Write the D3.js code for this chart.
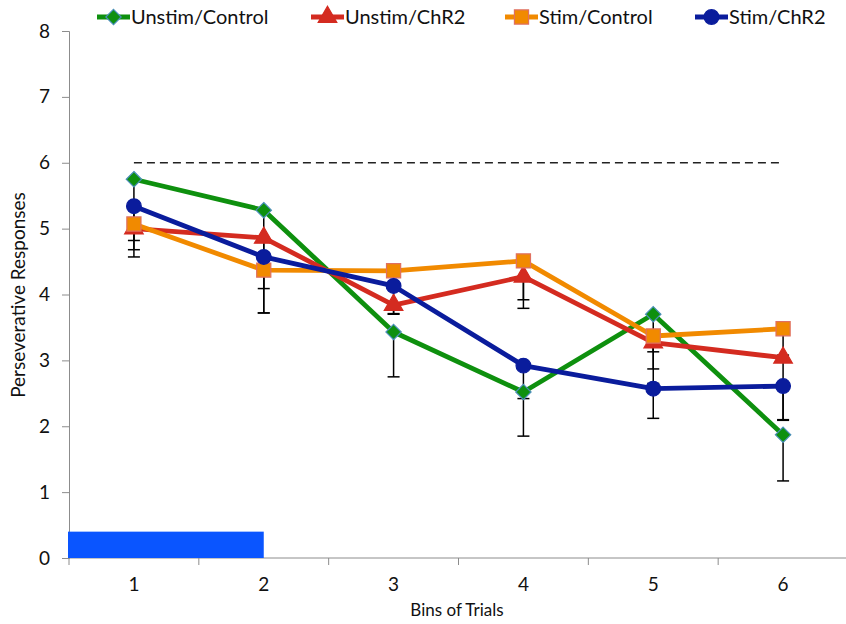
<!DOCTYPE html>
<head>
  <meta charset="utf-8">
  <script src="https://d3js.org/d3.v7.min.js"></script>
  <style>
    body { margin:0; background:#fff; }
    text { font-family: Lato, "Open Sans", sans-serif; fill:#111; }
  </style>
</head>
<body>
<svg width="846" height="624"></svg>
<script>

const bins = ["1", "2", "3", "4", "5", "6"]
const yTicks = [0, 1, 2, 3, 4, 5, 6, 7, 8]

const seriesNames = ["Unstim/Control", "Unstim/ChR2", "Stim/Control", "Stim/ChR2"]
const unstimControl = [5.75, 5.28, 3.43, 2.52, 3.70, 1.87]
const unstimChR2    = [5.00, 4.86, 3.84, 4.27, 3.27, 3.04]
const stimControl   = [5.07, 4.37, 4.36, 4.51, 3.37, 3.48]
const stimChR2      = [5.34, 4.57, 4.13, 2.92, 2.57, 2.61]

// minus-only error bars
const errUnstimControl = [1.18, 1.56, 0.68, 0.67, 1.05, 0.70]
const errUnstimChR2    = [0.32, 0.30, 0.14, 0.48, 0.14, 0.94]
const errStimControl   = [0.25, 0.65, 0.20, 0.59, 0.50, 0.40]
const errStimChR2      = [0.30, 0.48, 0.42, 0.50, 0.45, 0.52]

const criterion = 6
const stimBar = 0.4

const colors = ["#0e900e", "#d42b20", "#f18a00", "#0a1c9c"]
const shapes = ["diamond", "triangle", "square", "circle"]

const svg = d3.select("svg")

const x = d3.scaleBand().domain(bins).range([69, 848])
const y = d3.scaleLinear().domain([0, 8]).range([558, 31])
const cx = d => x(d) + x.bandwidth() / 2

const series = [
  {name: seriesNames[0], values: unstimControl, err: errUnstimControl},
  {name: seriesNames[1], values: unstimChR2, err: errUnstimChR2},
  {name: seriesNames[2], values: stimControl, err: errStimControl},
  {name: seriesNames[3], values: stimChR2, err: errStimChR2}
]

// axes
svg.append("g")
    .attr("transform", "translate(69,0)")
    .call(d3.axisLeft(y).tickValues(yTicks).tickSize(7).tickPadding(12))
    .call(g => g.selectAll("line, path").attr("stroke", "#8c8c8c"))
    .call(g => g.selectAll("text").style("font-size", "19px"))

const xg = svg.append("g").attr("transform", "translate(0,558)")
xg.append("line").attr("x1", 69).attr("x2", 846).attr("stroke", "#8c8c8c")
xg.selectAll(".tk")
  .data(bins.map(b => x(b)))
  .enter().append("line")
    .attr("x1", d => d).attr("x2", d => d)
    .attr("y1", 0).attr("y2", 7)
    .attr("stroke", "#8c8c8c")
xg.selectAll(".lbl")
  .data(bins)
  .enter().append("text")
    .attr("x", cx).attr("y", 33)
    .attr("text-anchor", "middle")
    .style("font-size", "19px")
    .text(d => d)

svg.append("text")
    .attr("x", 457).attr("y", 616)
    .attr("text-anchor", "middle")
    .style("font-size", "17px")
    .text("Bins of Trials")

svg.append("text")
    .attr("transform", "translate(25,295) rotate(-90)")
    .attr("text-anchor", "middle")
    .style("font-size", "19px")
    .text("Perseverative Responses")

// stimulation bar
svg.append("rect")
    .attr("x", 68).attr("y", y(stimBar))
    .attr("width", cx("2") - 68).attr("height", y(0) - y(stimBar))
    .attr("fill", "#0a55ff")

// criterion line
svg.append("line")
    .attr("x1", cx("1")).attr("x2", cx("6"))
    .attr("y1", y(criterion)).attr("y2", y(criterion))
    .attr("stroke", "#222").attr("stroke-width", 1.3)
    .attr("stroke-dasharray", "8,5")

// error bars
series.forEach(s => {
  const g = svg.append("g")
  s.values.forEach((v, i) => {
    const xx = cx(bins[i]), y0 = y(v), y1 = y(v - s.err[i])
    g.append("line").attr("x1", xx).attr("x2", xx).attr("y1", y0).attr("y2", y1)
      .attr("stroke", "#000").attr("stroke-width", 1.5)
    g.append("line").attr("x1", xx - 6).attr("x2", xx + 6).attr("y1", y1).attr("y2", y1)
      .attr("stroke", "#000").attr("stroke-width", 1.5)
  })
})

const symbolFor = {
  diamond: d3.symbol().type(d3.symbolDiamond2).size(150),
  triangle: d3.symbol().type(d3.symbolTriangle).size(150),
  square: d3.symbol().type(d3.symbolSquare).size(200),
  circle: d3.symbol().type(d3.symbolCircle).size(170)
}
const markerStroke = ["#4a8fb8", "#d42b20", "#e07060", "#0a1c9c"]

function marker(g, k, xx, yy) {
  g.append("path")
    .attr("d", symbolFor[shapes[k]]())
    .attr("transform", `translate(${xx},${yy})`)
    .attr("fill", colors[k])
    .attr("stroke", markerStroke[k])
    .attr("stroke-width", 1.2)
}

const line = d3.line().x((d, i) => cx(bins[i])).y(d => y(d))

series.forEach((s, k) => {
  const g = svg.append("g")
  g.append("path")
    .attr("d", line(s.values))
    .attr("fill", "none")
    .attr("stroke", colors[k])
    .attr("stroke-width", 4.8)
    .attr("stroke-linejoin", "round")
  s.values.forEach((v, i) => marker(g, k, cx(bins[i]), y(v)))
})

// legend
const legendX = [97, 311, 505, 695]
series.forEach((s, k) => {
  const g = svg.append("g").attr("transform", `translate(${legendX[k]},17)`)
  g.append("line").attr("x1", 0).attr("x2", 33)
    .attr("stroke", colors[k]).attr("stroke-width", 4.8)
  marker(g, k, 16.5, 0)
  g.append("text").attr("x", 34).attr("y", 7)
    .style("font-size", "20px")
    .text(s.name)
})

</script>
</body>
